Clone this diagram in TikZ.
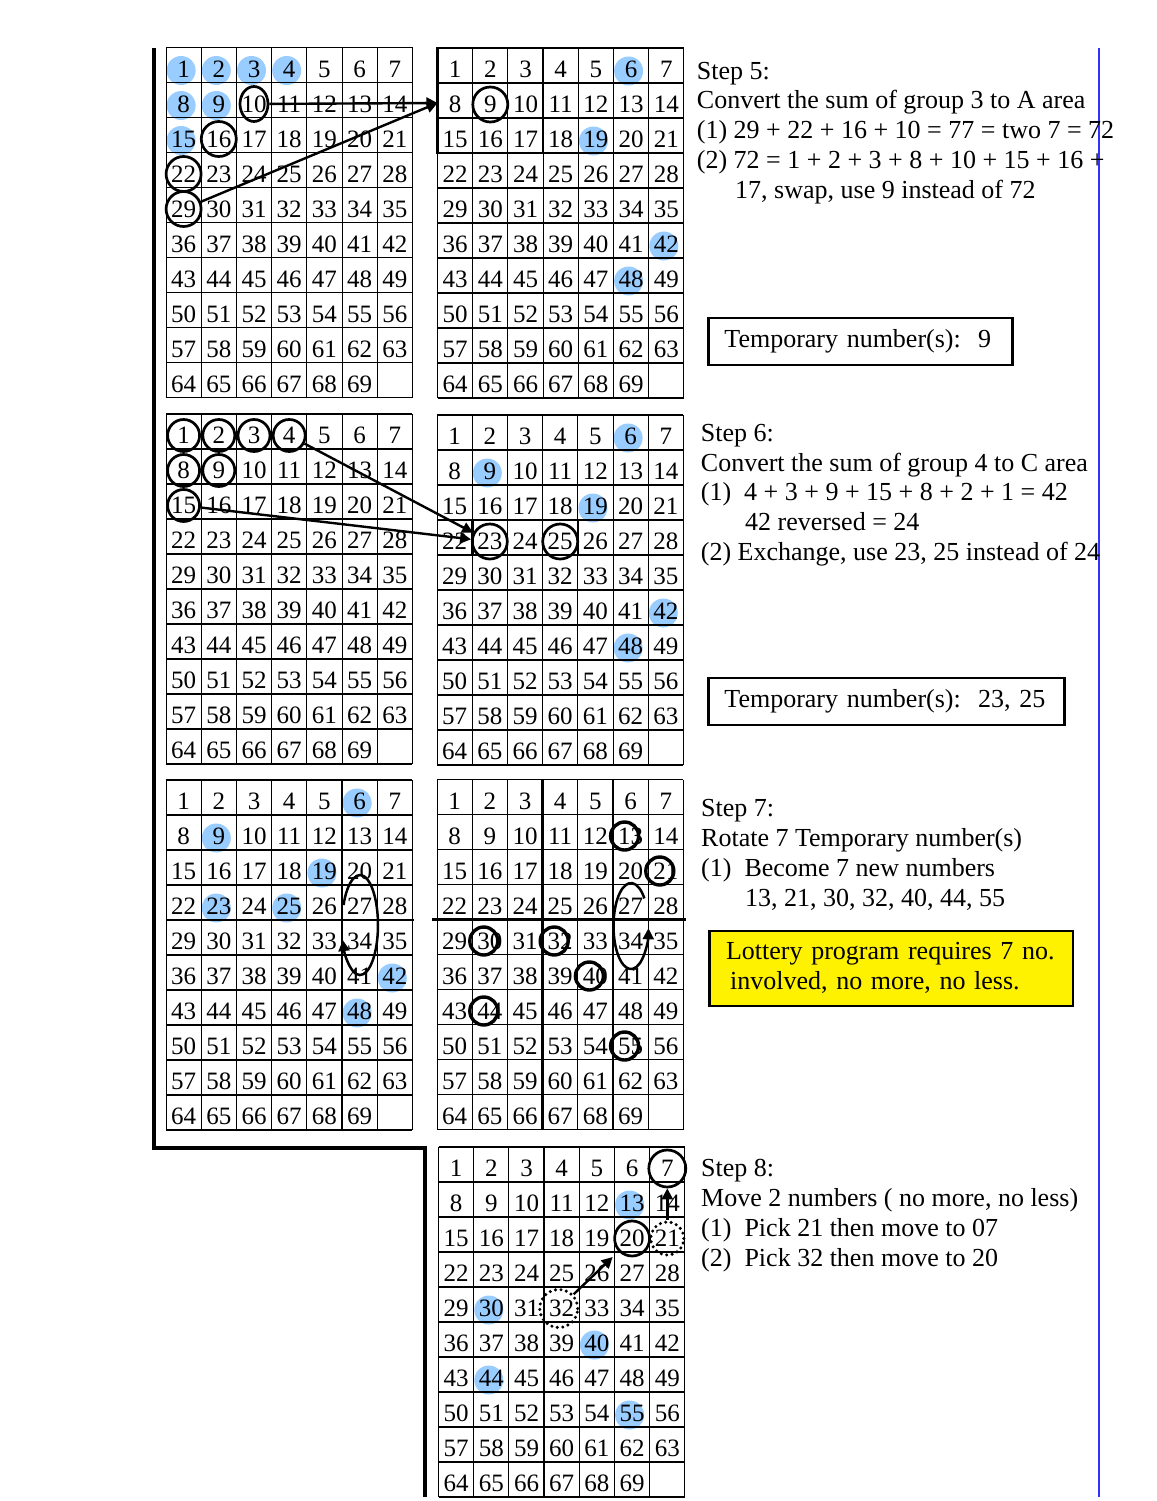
\documentclass[tikz,border=0pt]{standalone}
\usepackage{fontspec}
\setmainfont{Liberation Serif}
\usetikzlibrary{arrows.meta,shapes.geometric}

\definecolor{dotblue}{RGB}{153,204,255}
\definecolor{ruleblue}{RGB}{51,51,255}

% one 7 x 10 number grid, top-left corner at (#2,#3)
\newcommand{\lottogrid}[3]{%
  \begin{scope}[shift={(#2,#3)}]
    \foreach \gr in {0,...,10} \draw[hrule] (0,\gr*35) -- (246.4,\gr*35);
    \foreach \gc in {0,...,7} \draw[vrule] (\gc*35.2,0) -- (\gc*35.2,350);
    \foreach \cellno in {1,...,69} {
      \pgfmathsetmacro{\nx}{(mod(\cellno-1,7)+0.5)*35.2}
      \pgfmathsetmacro{\ny}{(div(\cellno-1,7)+0.5)*35+4}
      \node[num] (#1-\cellno) at (\nx,\ny) {\cellno};
    }
  \end{scope}}

% light blue marks, drawn under a grid
\newcommand{\bluedots}[3]{%
  \begin{scope}[shift={(#1,#2)}]
    \foreach \b in {#3} {
      \pgfmathsetmacro{\bx}{(mod(\b-1,7)+0.5)*35.2-2.5}
      \pgfmathsetmacro{\by}{(div(\b-1,7)+0.5)*35+5.5}
      \fill[dotblue] (\bx,\by) circle (14.5);
    }
  \end{scope}}

\begin{document}
\begin{tikzpicture}[
    x=1pt, y=-1pt,
    >={Triangle[length=11pt,width=11pt]},
    num/.style={inner sep=0pt, font=\fontsize{25}{25}\selectfont},
    hrule/.style={line width=1.5pt},
    vrule/.style={line width=0.9pt},
    heavy/.style={line width=2.6pt},
    ring/.style={circle, draw, line width=2.7pt, minimum size=#1, inner sep=0pt},
    ring/.default=34pt,
    thinring/.style={circle, draw, line width=3.4pt, minimum size=28pt, inner sep=0pt},
    dotring/.style={circle, draw, line width=3.4pt, dash pattern=on 0pt off 5.5pt,
        line cap=round, minimum size=#1, inner sep=0pt},
    dotring/.default=34pt,
    arr/.style={->, line width=2.4pt},
    loopline/.style={->, line width=2.5pt},
    stepline/.style={anchor=base west, inner sep=0pt, font=\fontsize{26}{30}\selectfont},
    tempbox/.style={draw, line width=2.2pt, anchor=west, inner xsep=16pt,
        minimum height=46.7pt, align=left, font=\fontsize{26}{30}\selectfont},
    notebox/.style={tempbox, fill=yellow, inner xsep=16.7pt, minimum height=75.3pt}
]
    \useasboundingbox (0,0) rectangle (1156,1501);

    % separators
    \draw[line width=4pt] (154,48) -- (154,1148) -- (425.3,1148) -- (425.3,1497);
    \draw[ruleblue, line width=2pt] (1099,48) -- (1099,1497);

    % step 5
    \bluedots{166}{47.5}{1,2,3,4,8,9,15}
    \lottogrid{g1}{166}{47.5}
    \bluedots{437.5}{48}{6,19,42,48}
    \lottogrid{g2}{437.5}{48}
    \draw[heavy] (437.5,48) rectangle (543.1,153);
    \node[ring, ellipse, minimum width=28pt, minimum height=35pt] (r1-10) at (g1-10) {};
    \foreach \k in {16,22,29} \node[ring=35pt] (r1-\k) at (g1-\k) {};
    \node[ring=35pt] (r2-9) at (g2-9) {};
    \coordinate (a5) at (437.5,103);
    \draw[arr] (r1-10) -- (a5);
    \draw[arr] (r1-29) -- (a5);

    \node[stepline] (s5a) at (696.7,79.3) {Step 5:};
    \node[stepline] (s5b) at (696.7,109) {Convert the sum of group 3 to A area};
    \node[stepline] (s5c) at (696.7,138.5) {(1) 29 + 22 + 16 + 10 = 77 = two 7 = 72};
    \node[stepline] (s5d) at (696.7,168) {(2) 72 = 1 + 2 + 3 + 8 + 10 + 15 + 16 +};
    \node[stepline] (s5e) at (735,198) {17, swap, use 9 instead of 72};
    \node[tempbox, text width=272pt] (t5) at (707.3,341.7) {Temporary number(s):\ \ 9};

    % step 6
    \lottogrid{g3}{166}{414}
    \bluedots{437}{415}{6,9,19,42,48}
    \lottogrid{g4}{437}{415}
    \draw[heavy] (472.2,520) rectangle (577.8,555);
    \foreach \k in {1,2,3,4,8,9,15} \node[ring=32pt] (r3-\k) at (g3-\k) {};
    \node[ring=35pt] (r4-23) at (g4-23) {};
    \node[ring=35pt] (r4-25) at (g4-25) {};
    \draw[arr] (r3-4) -- (r4-23);
    \draw[arr] (r3-15) -- (r4-23);

    \node[stepline] (s6a) at (700.7,441.7) {Step 6:};
    \node[stepline] (s6b) at (700.7,471.7) {Convert the sum of group 4 to C area};
    \node[stepline] (s6c) at (700.7,500.7) {(1)\ \ 4 + 3 + 9 + 15 + 8 + 2 + 1 = 42};
    \node[stepline] (s6d) at (745,530.7) {42 reversed = 24};
    \node[stepline] (s6e) at (700.7,560.7) {(2) Exchange, use 23, 25 instead of 24};
    \node[tempbox, text width=324pt] (t6) at (707.3,701.7) {Temporary number(s):\ \ 23, 25};

    % step 7
    \bluedots{166}{780}{6,9,19,23,25,42,48}
    \lottogrid{g5}{166}{780}
    \draw[heavy] (166,920) -- (414,920);
    \draw[heavy] (342,780) -- (342,1130);
    \draw[loopline] (343.5,905) arc[start angle=203.6, end angle=522.5, x radius=18, y radius=50];
    \lottogrid{g6}{437}{779.5}
    \draw[heavy] (432,919.5) -- (686,919.5);
    \draw[heavy] (542.6,779.5) -- (542.6,1129.5);
    \draw[heavy] (613,779.5) -- (613,1129.5);
    \foreach \k in {13,21,30,32,40,44,55} \node[thinring, xshift=-6pt] (r6-\k) at (g6-\k) {};
    \draw[loopline] (644.4,898.4) arc[start angle=320, end angle=3, x radius=17.5, y radius=43];

    \node[stepline] (s7a) at (701,816.7) {Step 7:};
    \node[stepline] (s7b) at (701,846.7) {Rotate 7 Temporary number(s)};
    \node[stepline] (s7c) at (701,876.7) {(1)\ \ Become 7 new numbers};
    \node[stepline] (s7d) at (745,906.7) {13, 21, 30, 32, 40, 44, 55};
    \node[notebox, text width=330pt] (n7) at (708.3,968.3) {Lottery program requires 7 no.\\\hspace*{4pt}involved, no more, no less.};

    % step 8
    \bluedots{438.5}{1147}{13,30,40,44,55}
    \lottogrid{g7}{438.5}{1147}
    \draw[heavy] (544.1,1147) -- (544.1,1497);
    \node[ring=37pt] (r7-7) at (g7-7) {};
    \node[ring=35pt] (r7-20) at (g7-20) {};
    \node[dotring=33pt] (d7-21) at (g7-21) {};
    \node[dotring=38pt, xshift=-3pt] (d7-32) at (g7-32) {};
    \draw[arr] (d7-21) -- (r7-7);
    \draw[arr, shorten >=8pt] (d7-32) -- (r7-20);

    \node[stepline] (s8a) at (701,1176.7) {Step 8:};
    \node[stepline] (s8b) at (701,1206.7) {Move 2 numbers ( no more, no less)};
    \node[stepline] (s8c) at (701,1236.7) {(1)\ \ Pick 21 then move to 07};
    \node[stepline] (s8d) at (701,1266.7) {(2)\ \ Pick 32 then move to 20};
\end{tikzpicture}
\end{document}
